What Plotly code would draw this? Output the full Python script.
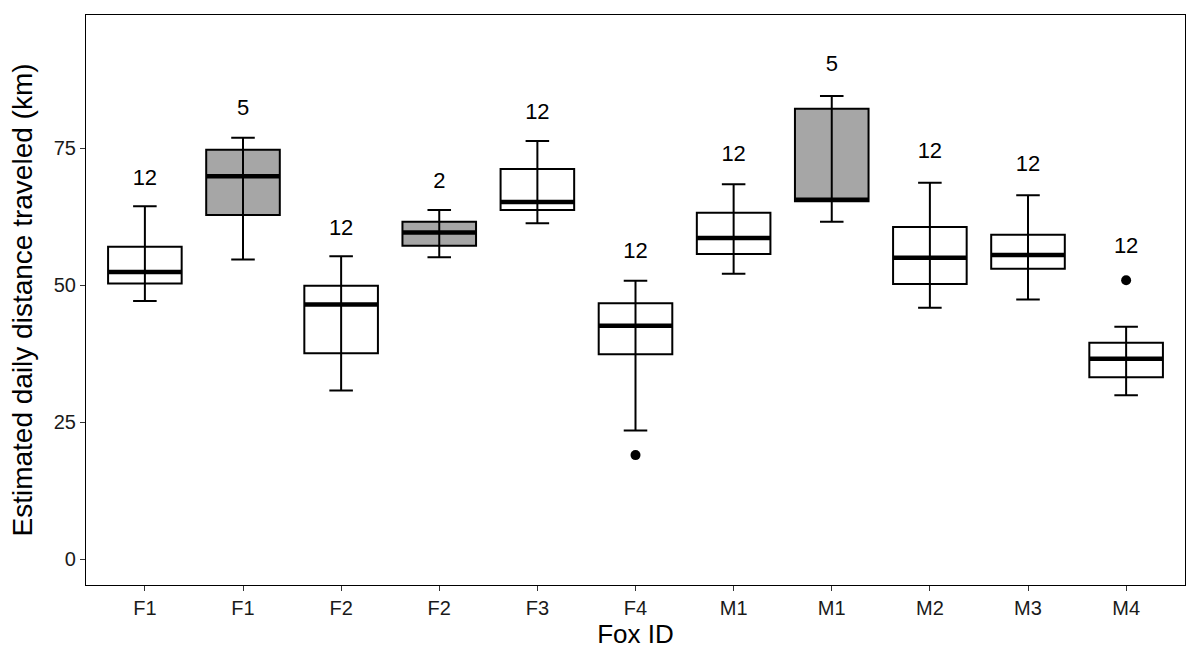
import plotly.graph_objects as go

fox_ids = ["F1", "F1", "F2", "F2", "F3", "F4", "M1", "M1", "M2", "M3", "M4"]
grey_box = [False, True, False, True, False, False, False, True, False, False, False]
upper_whisker = [64.4, 76.9, 55.3, 63.7, 76.3, 50.8, 68.4, 84.5, 68.7, 66.4, 42.4]
q3_vals = [57.0, 74.7, 49.9, 61.6, 71.2, 46.7, 63.2, 82.2, 60.6, 59.2, 39.5]
median_vals = [52.4, 69.9, 46.5, 59.6, 65.2, 42.6, 58.6, 65.6, 55.0, 55.5, 36.6]
q1_vals = [50.3, 62.8, 37.6, 57.2, 63.7, 37.4, 55.7, 65.3, 50.2, 53.0, 33.2]
lower_whisker = [47.1, 54.7, 30.8, 55.1, 61.3, 23.5, 52.1, 61.6, 45.9, 47.4, 29.9]
outlier_x = [6, 11]
outlier_y = [19.0, 50.9]
n_labels = ["12", "5", "12", "2", "12", "12", "12", "5", "12", "12", "12"]
label_y = [69.3, 82.0, 60.2, 68.8, 81.4, 56.0, 73.7, 90.1, 74.3, 71.9, 56.8]

positions = list(range(1, len(fox_ids) + 1))
BOX_W = 0.75
FONT = "Liberation Sans, Arial, sans-serif"

fig = go.Figure()
for i, p in enumerate(positions):
    fig.add_trace(go.Box(
        x=[p], q1=[q1_vals[i]], median=[median_vals[i]], q3=[q3_vals[i]],
        lowerfence=[lower_whisker[i]], upperfence=[upper_whisker[i]],
        width=BOX_W, whiskerwidth=0.32,
        fillcolor="#A6A6A6" if grey_box[i] else "white",
        line=dict(color="black", width=2),
        boxpoints=False, showlegend=False, hoverinfo="skip",
    ))

# whisker line continuing through the box, and thick median lines
for i, p in enumerate(positions):
    fig.add_trace(go.Scatter(
        x=[p, p], y=[q1_vals[i], q3_vals[i]],
        mode="lines", line=dict(color="black", width=2),
        showlegend=False, hoverinfo="skip",
    ))
    fig.add_trace(go.Scatter(
        x=[p - BOX_W / 2, p + BOX_W / 2], y=[median_vals[i], median_vals[i]],
        mode="lines", line=dict(color="black", width=4.5),
        showlegend=False, hoverinfo="skip",
    ))

fig.add_trace(go.Scatter(
    x=outlier_x, y=outlier_y, mode="markers",
    marker=dict(color="black", size=10),
    showlegend=False, hoverinfo="skip",
))

fig.add_trace(go.Scatter(
    x=positions, y=label_y, mode="text", text=n_labels,
    textfont=dict(family=FONT, size=22, color="black"),
    showlegend=False, hoverinfo="skip",
))

fig.update_layout(
    width=1200, height=667,
    margin=dict(l=86, r=15, t=15, b=82),
    plot_bgcolor="white", paper_bgcolor="white",
    font=dict(family=FONT, color="black"),
    boxmode="overlay",
)
fig.update_xaxes(
    range=[0.4, 11.6], tickmode="array", tickvals=positions, ticktext=fox_ids,
    showgrid=False, zeroline=False, showline=True, linecolor="black", linewidth=1.2,
    mirror=True, ticks="outside", ticklen=5, tickcolor="#333333", tickwidth=1,
    tickfont=dict(size=20, color="#1a1a1a"),
    title=dict(text="Fox ID", font=dict(size=26, color="black"), standoff=5),
)
fig.update_yaxes(
    range=[-4.7, 99.3], tickvals=[0, 25, 50, 75],
    showgrid=False, zeroline=False, showline=True, linecolor="black", linewidth=1.2,
    mirror=True, ticks="outside", ticklen=5, tickcolor="#333333", tickwidth=1,
    tickfont=dict(size=20, color="#1a1a1a"),
    title=dict(text="Estimated daily distance traveled (km)", font=dict(size=28, color="black"), standoff=12),
)

fig.write_html("out.html")
